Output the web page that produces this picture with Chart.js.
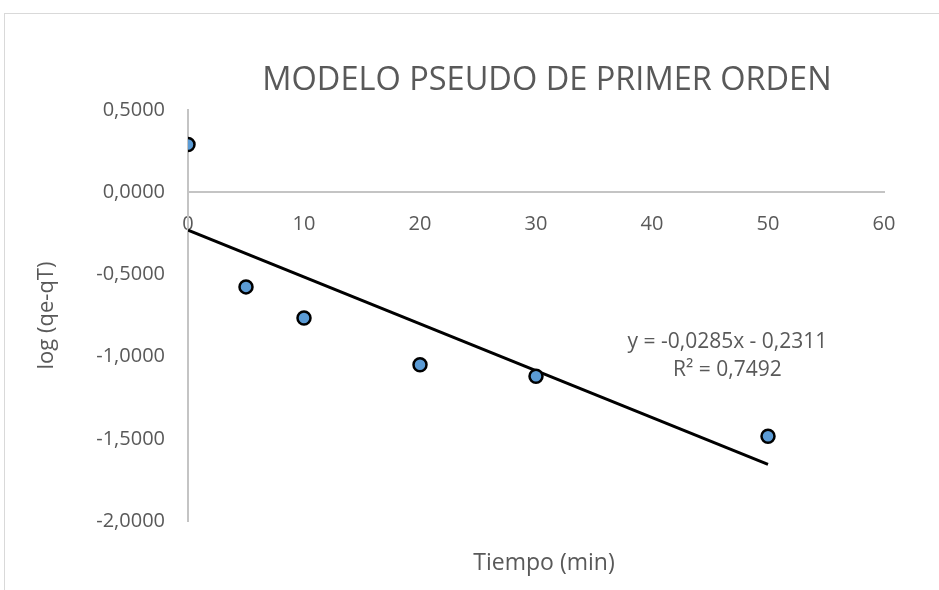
<!DOCTYPE html>
<html>
<head>
<meta charset="utf-8">
<script src="https://cdn.jsdelivr.net/npm/chart.js@4"></script>
<style>
  html, body { margin: 0; padding: 0; background: #fff; overflow: hidden; }
  #frame { position: absolute; left: 4px; top: 13px; width: 1000px; height: 1000px; border: 1px solid #d9d9d9; }
  #wrap { position: absolute; left: 0; top: 0; width: 939px; height: 590px; }
</style>
</head>
<body>
<div id="frame"></div>
<div id="wrap"><canvas id="chart" width="939" height="590"></canvas></div>
<script>
// data
const tiempo = [0, 5, 10, 20, 30, 50];
const logQ = [0.29, -0.576, -0.765, -1.05, -1.12, -1.485];
// trend line ends (y = -0,0285x - 0,2311)
const trendX = [0, 50];
const trendY = [-0.2311, -1.6561];
const equationLines = ['y = -0,0285x - 0,2311', 'R² = 0,7492'];
const chartTitle = 'MODELO PSEUDO DE PRIMER ORDEN';
const xTitle = 'Tiempo (min)';
const yTitle = 'log (qe-qT)';

const textColor = '#595959';
const axisColor = '#c4c4c4';
const fontFamily = '"Open Sans", sans-serif';

const points = tiempo.map((t, i) => ({ x: t, y: logQ[i] }));
const trend = trendX.map((t, i) => ({ x: t, y: trendY[i] }));

// chart title, x title and trendline label, placed like Excel does
const excelLabels = {
    id: 'excelLabels',
    afterDatasetsDraw(chart) {
        const ctx = chart.ctx;
        const sx = chart.scales.x, sy = chart.scales.y;
        ctx.save();
        ctx.fillStyle = textColor;
        ctx.textAlign = 'center';
        ctx.textBaseline = 'middle';

        ctx.font = '32.5px ' + fontFamily;
        ctx.fillText(chartTitle, 547, 81);

        ctx.font = '23px ' + fontFamily;
        ctx.fillText(xTitle, 544, 563);

        ctx.font = '21px ' + fontFamily;
        const ex = sx.getPixelForValue(46.5);
        const ey = sy.getPixelForValue(-0.91);
        equationLines.forEach((line, i) => ctx.fillText(line, ex, ey + i * 28));
        ctx.restore();
    }
};

new Chart(document.getElementById('chart'), {
    type: 'scatter',
    data: {
        datasets: [
            {
                label: yTitle,
                data: points,
                backgroundColor: '#5b9bd5',
                borderColor: '#000000',
                borderWidth: 2.5,
                pointRadius: 6.5,
                order: 1
            },
            {
                type: 'line',
                label: 'Lineal',
                data: trend,
                borderColor: '#000000',
                borderWidth: 3,
                pointRadius: 0,
                fill: false,
                order: 2
            }
        ]
    },
    options: {
        responsive: false,
        animation: false,
        layout: { padding: { left: 30, right: 55, top: 110, bottom: 69 } },
        scales: {
            x: {
                type: 'linear',
                position: { y: 0 },
                min: 0,
                max: 60,
                grid: { display: false, drawTicks: false },
                border: { display: true, color: axisColor, width: 2 },
                ticks: {
                    stepSize: 10,
                    padding: 20,
                    color: textColor,
                    font: { family: fontFamily, size: 20 }
                }
            },
            y: {
                type: 'linear',
                position: 'left',
                min: -2,
                max: 0.5,
                grid: { display: false, drawTicks: false },
                border: { display: true, color: axisColor, width: 2 },
                ticks: {
                    stepSize: 0.5,
                    padding: 23,
                    color: textColor,
                    font: { family: fontFamily, size: 20 },
                    callback: v => v.toFixed(4).replace('.', ',').replace('-0,0000', '0,0000')
                },
                title: {
                    display: true,
                    text: yTitle,
                    color: textColor,
                    font: { family: fontFamily, size: 22 },
                    padding: { top: 4, bottom: 0 }
                },
                afterFit(scale) { scale.width = 158; }
            }
        },
        plugins: {
            legend: { display: false },
            tooltip: { enabled: false }
        }
    },
    plugins: [excelLabels]
});
</script>
</body>
</html>
